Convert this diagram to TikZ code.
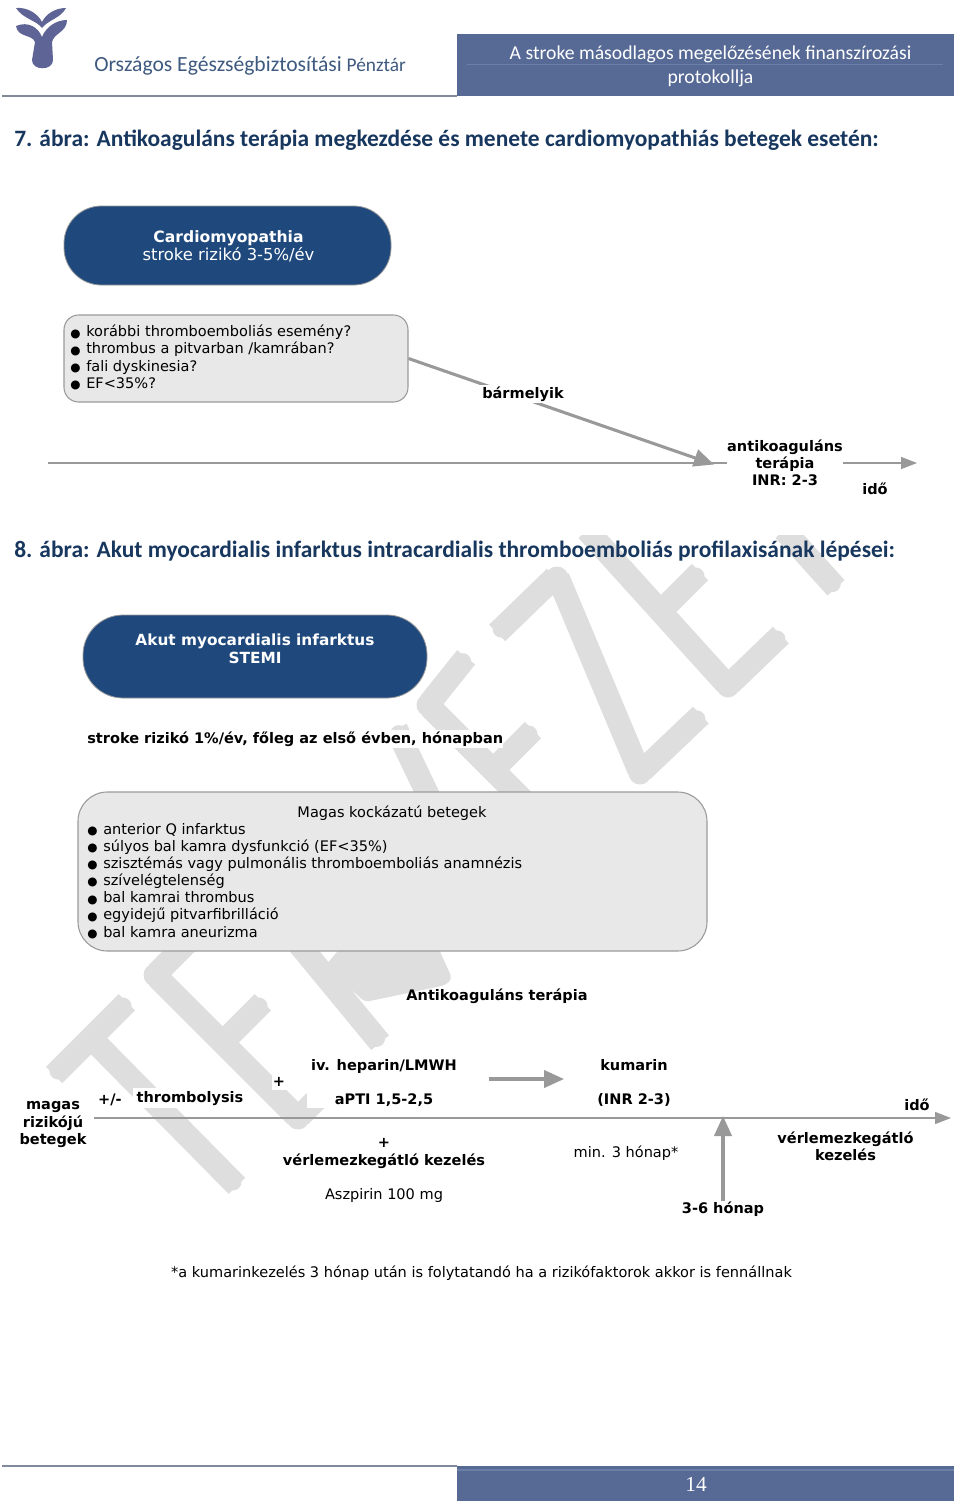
\documentclass[tikz,border=0pt]{standalone}
\usepackage{fontspec}
\setmainfont{DejaVu Sans}
\newfontfamily\carl{Carlito}
\newfontfamily\tnr{Liberation Serif}
\usetikzlibrary{arrows.meta,calc}
\newlength\pxu \setlength\pxu{0.75pt}
\definecolor{hdr}{HTML}{566A95}
\definecolor{hdrl}{HTML}{6C7FA6}
\definecolor{navy}{HTML}{1F497D}
\definecolor{ttl}{HTML}{17375E}
\definecolor{orsz}{HTML}{3F5A80}
\definecolor{rule}{HTML}{7F8A9B}
\definecolor{grayfill}{HTML}{E8E8E8}
\definecolor{grayedge}{HTML}{9A9A9A}
\definecolor{arr}{HTML}{999999}
\definecolor{wmk}{HTML}{DEDEDE}
\definecolor{logoc}{HTML}{5F6496}
\newcommand{\txtfont}{\fontsize{10.9pt}{12.85pt}\selectfont}
\newcommand{\bul}[1]{\makebox[16\pxu][l]{\raisebox{-0.2pt}{\fontsize{8.8pt}{10pt}\selectfont ●}}#1}
\newcommand{\wm}[2]{%
  \draw[wmk,line width=17\pxu,line cap=round,shorten <=8.5\pxu,shorten >=8.5\pxu] (#1)--(#2);
  \draw[wmk,line width=23\pxu,shorten <=3\pxu,shorten >=3\pxu] (#1)--(#2);}
\tikzset{
  x=0.75pt,y=-0.75pt,
  txt/.style={font=\txtfont,inner sep=0pt,align=center,text=black},
  btxt/.style={txt,font=\txtfont\bfseries},
  wtxt/.style={btxt,fill=white,inner xsep=2pt,inner ysep=1.5pt},
  bluebox/.style={fill=navy,draw=grayedge,line width=0.6pt,inner sep=0pt,text=white,align=center,font=\txtfont},
  graybox/.style={fill=grayfill,draw=grayedge,line width=0.8pt,inner sep=0pt},
  axisline/.style={draw=arr,line width=1.1pt},
  axisarrow/.style={axisline,-{Triangle[length=12pt,width=9pt,fill=arr]}},
  fatarrow/.style={draw=arr,line width=2.3pt,-{Triangle[length=15pt,width=13pt,fill=arr]}},
  heading/.style={font=\fontsize{17.6pt}{20pt}\selectfont\carl\bfseries,text=ttl,inner sep=0pt,anchor=west},
  hdrtxt/.style={font=\fontsize{14.75pt}{17.5pt}\selectfont\carl,text=white,inner sep=0pt,align=center},
}
\begin{document}
\begin{tikzpicture}
\useasboundingbox (0,0) rectangle (960,1507);
\fill[white] (0,0) rectangle (960,1507);
% watermark
\begin{scope}
\clip (0,535) rectangle (960,1507);
\wm{52,1077}{129,1000}\wm{91,1038}{239,1188}
\wm{155,975}{298,1118}\wm{155,975}{205,925}\wm{221,1044}{265,1000}\wm{298,1118}{335,1081}
\fill[wmk] (155,975) circle[radius=11.5];\fill[wmk] (298,1118) circle[radius=11.5];
\wm{283,925}{382,1045}
\fill[wmk,rounded corners=3pt] (343,945)--(325,966)--(365,1002)--(446,985)--(452,978)--(437,945)--cycle;
\wm{395,726}{440,820}
\wm{428,705}{468,655}\wm{428,705}{530,807}\wm{493,770}{535,728}
\fill[wmk] (428,705) circle[radius=11.5];
\wm{495,635}{557,575}\wm{557,575}{640,773}\wm{640,773}{703,713}
\fill[wmk] (557,578) circle[radius=11.5];\fill[wmk] (640,773) circle[radius=11.5];
\wm{585,528}{728,686}\wm{728,686}{783,633}\wm{657,615}{702,570}
\fill[wmk] (728,686) circle[radius=11.5];
\wm{782,528}{838,590}
\end{scope}
% white masks over the watermark
\fill[white] (307,1055) rectangle (460,1108);
\fill[white] (272,1074) rectangle (286,1090);
\fill[white] (133,1088) rectangle (247,1108);
% logo
\fill[logoc] (16,8) .. controls (28,7) and (38,14) .. (42,22) .. controls (46,14) and (55,8) .. (66,8) .. controls (61,18) and (48,20) .. (42,28) .. controls (36,20) and (23,19) .. cycle;
\fill[logoc] (16,26) .. controls (28,21) and (38,27) .. (42,37) .. controls (46,27) and (56,20) .. (67,20) .. controls (67,32) and (54,33) .. (52,42) -- (53,60) .. controls (53,71) and (32,71) .. (32,60) -- (35,42) .. controls (32,34) and (18,38) .. cycle;
% header
\draw[draw=rule,line width=0.8pt] (2,96) -- (457,96);
\node[font=\fontsize{16.2pt}{18pt}\selectfont\carl,text=orsz,inner sep=0pt,anchor=west] (org) at (94,66) {Országos Egészségbiztosítási \fontsize{14.5pt}{18pt}\selectfont Pénztár};
\node[fill=hdr,minimum width=497\pxu,minimum height=62\pxu,inner sep=0pt,anchor=north west] (hbar) at (457,34) {};
\draw[hdrl,line width=0.4pt] (467,64) -- (943,64);
\node[hdrtxt] (htxt) at (710.5,66.5) {A stroke másodlagos megelőzésének finanszírozási\\protokollja};
% headings
\node[heading] (h7) at (14,140) {7. ábra: Antikoaguláns terápia megkezdése és menete cardiomyopathiás betegek esetén:};
\node[heading] (h8) at (14,551) {8. ábra: Akut myocardialis infarktus intracardialis thromboemboliás profilaxisának lépései:};
% figure 7
\node[bluebox,rounded corners=28pt,minimum width=327\pxu,minimum height=79\pxu] (cardio) at (227.5,245.5) {};
\node[txt,text=white,font=\fontsize{11.7pt}{13.4pt}\selectfont] (cardiot) at (228.5,246.5) {\textbf{Cardiomyopathia}\\\fontsize{12.3pt}{13.4pt}\selectfont stroke rizikó 3-5\%/év};
\node[graybox,rounded corners=11pt,minimum width=344\pxu,minimum height=87\pxu] (q) at (236,358.5) {};
\node[txt,align=left,anchor=west] (qt) at (70,357.5) {\bul{korábbi thromboemboliás esemény?}\\\bul{thrombus a pitvarban /kamrában?}\\\bul{fali dyskinesia?}\\\bul{EF<35\%?}};
\coordinate (axs) at (48,463);
\coordinate (axe) at (917,463);
\coordinate (tip7) at (714,464.5);
\node[txt,font=\txtfont\bfseries,minimum width=115\pxu] (ak) at (785,463) {antikoaguláns\\terápia\\INR: 2-3};
\draw[axisline] (axs) -- (ak.west);
\draw[axisarrow] (ak.east) -- (axe);
\draw[fatarrow] (q.east) -- (tip7);
\node[wtxt] (any) at (523,394) {bármelyik};
\node[btxt] (ido7) at (875,489) {idő};
% figure 8
\node[bluebox,rounded corners=30pt,minimum width=344\pxu,minimum height=83\pxu] (ami) at (255,656.5) {};
\node[btxt,text=white,font=\fontsize{11.5pt}{13.3pt}\selectfont\bfseries] (amit) at (255,648.5) {Akut myocardialis infarktus\\STEMI};
\node[wtxt,anchor=west,inner xsep=0pt,fill=white] (risk) at (87,739) {stroke rizikó 1\%/év, főleg az első évben, hónapban};
\node[graybox,rounded corners=22pt,minimum width=629\pxu,minimum height=159\pxu] (high) at (392.5,871.5) {};
\node[txt] (hight) at (392,813) {Magas kockázatú betegek};
\node[txt,align=left,anchor=north west] (hl) at (87,823) {\bul{anterior Q infarktus}\\\bul{súlyos bal kamra dysfunkció (EF<35\%)}\\\bul{szisztémás vagy pulmonális thromboemboliás anamnézis}\\\bul{szívelégtelenség}\\\bul{bal kamrai thrombus}\\\bul{egyidejű pitvarfibrilláció}\\\bul{bal kamra aneurizma}};
\node[btxt] (at) at (497,996) {Antikoaguláns terápia};
\coordinate (tls) at (94,1118);
\coordinate (tle) at (951,1118);
\draw[axisarrow] (tls) -- (tle);
\node[btxt] (mag) at (53,1124.5) {magas\\rizikójú\\betegek};
\node[btxt] (pm) at (110,1100) {+/-};
\node[btxt] (thr) at (190,1098.5) {thrombolysis};
\node[btxt] (pl1) at (279,1082) {+};
\node[btxt] (hep) at (384,1066.5) {iv. heparin/LMWH};
\node[btxt] (apti) at (384,1100) {aPTI 1,5-2,5};
\coordinate (sw1) at (489,1079);
\coordinate (sw2) at (564,1079);
\draw[fatarrow] (sw1) -- (sw2);
\node[btxt] (kum) at (634,1065) {kumarin};
\node[btxt] (inr) at (634,1100) {(INR 2-3)};
\node[btxt] (pl2) at (384,1143) {+};
\node[btxt] (vk1) at (384,1161) {vérlemezkegátló kezelés};
\node[txt] (asz) at (384,1195.5) {Aszpirin 100 mg};
\node[txt] (min) at (626,1153) {min. 3 hónap*};
\node[btxt] (ho) at (723,1209) {3-6 hónap};
\coordinate (hotip) at (723,1116);
\draw[fatarrow] (ho.north) -- (hotip);
\node[btxt] (ido8) at (917,1105) {idő};
\node[btxt] (vk2) at (845.5,1146) {vérlemezkegátló\\kezelés};
\node[txt] (foot) at (481.5,1273) {*a kumarinkezelés 3 hónap után is folytatandó ha a rizikófaktorok akkor is fennállnak};
% footer
\draw[draw=rule,line width=0.8pt] (2,1466) -- (457,1466);
\node[fill=hdr,minimum width=497\pxu,minimum height=35\pxu,inner sep=0pt,anchor=north west] (fbar) at (457,1466) {};
\draw[hdrl,line width=0.8pt] (457,1470) -- (954,1470);
\node[font=\fontsize{16pt}{18pt}\selectfont\tnr,text=white,inner sep=0pt] (pg) at (696,1484.5) {14};
\end{tikzpicture}
\end{document}
